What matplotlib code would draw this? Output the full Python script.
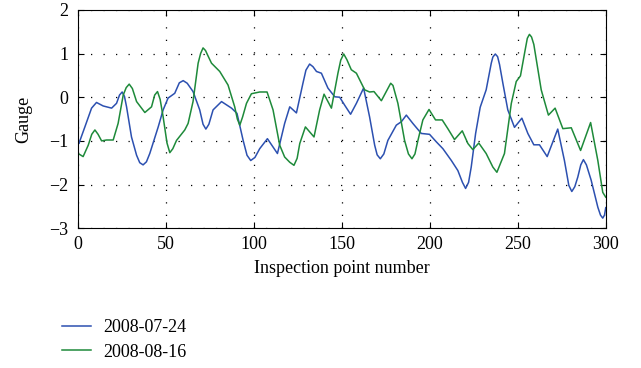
import matplotlib
matplotlib.use('Agg')
import matplotlib.pyplot as plt

# Gauge readings along the line
blue_x = [0, 0.4, 3.8, 7.6, 10.4, 14.2, 19, 21.8, 23.5, 25, 26.3, 27.5, 30.3, 33.2,
          35, 36.9, 38.8, 40.7, 45.5, 48.3, 51.1, 54.9, 57.5, 59.7, 62, 65.3, 69.1,
          71, 72.6, 74.3, 76.7, 81.5, 87.2, 90.3, 93.8, 96, 98.1, 100.5, 103.2, 107.6,
          113.3, 117.4, 120.3, 124.1, 127.8, 129.5, 131.6, 133.5, 135.5, 138.3, 142,
          145.9, 148.7, 151.5, 154.9, 158.2, 162.3, 165.7, 168.6, 170, 171.8, 173.8,
          176.1, 180.9, 183.8, 186.6, 190.3, 195.1, 199.8, 203.6, 207.4, 212.2, 215.9,
          218.5, 220.3, 222, 223.5, 226, 228.6, 232, 234.9, 235.8, 237.2, 238.5,
          239.6, 241.5, 244.3, 248.1, 252.3, 255.7, 259.1, 262.3, 266.7, 272.7,
          276.5, 279, 280.7, 282.4, 284.1, 285.8, 287.3, 289, 291.7, 295.5, 297,
          298.3, 299.3, 300]
blue_y = [-1.02, -1.06, -0.68, -0.25, -0.12, -0.20, -0.25, -0.14, 0.05, 0.12, 0.02,
          -0.22, -0.91, -1.33, -1.50, -1.55, -1.48, -1.29, -0.68, -0.29, -0.02, 0.09,
          0.33, 0.38, 0.32, 0.13, -0.29, -0.62, -0.73, -0.62, -0.29, -0.10, -0.25,
          -0.37, -0.99, -1.33, -1.45, -1.38, -1.18, -0.95, -1.29, -0.60, -0.22, -0.36,
          0.32, 0.62, 0.76, 0.70, 0.59, 0.55, 0.21, 0.01, 0.0, -0.18, -0.39, -0.14,
          0.21, -0.45, -1.10, -1.32, -1.41, -1.30, -0.99, -0.64, -0.56, -0.41, -0.60,
          -0.83, -0.85, -1.02, -1.18, -1.45, -1.68, -1.95, -2.09, -1.95, -1.60, -0.83,
          -0.23, 0.17, 0.78, 0.92, 0.99, 0.93, 0.75, 0.32, -0.29, -0.69, -0.48, -0.83,
          -1.09, -1.09, -1.36, -0.73, -1.45, -2.02, -2.16, -2.05, -1.83, -1.55, -1.43,
          -1.55, -1.90, -2.52, -2.70, -2.77, -2.70, -2.53]

green_x = [0, 2.8, 5.7, 7.7, 9.5, 11.3, 13.3, 16.1, 19.9, 22.7, 25.6, 27.3, 29, 30.8,
           33.2, 37.9, 41.7, 43.5, 45.1, 46.6, 48.3, 50.5, 52.1, 53.8, 55.9, 60.6,
           62.5, 65.3, 68.2, 69.6, 71, 72.4, 73.9, 75.8, 80.5, 85.2, 89, 90.5, 91.9,
           93.5, 95.7, 98.5, 103.2, 107.4, 110.8, 114.6, 117.4, 120.3, 122.7, 124.5,
           126, 129.2, 134.1, 137.3, 139.8, 144, 147.7, 149.3, 151, 152.8, 155.3,
           158.2, 162.9, 165.7, 168.2, 172.4, 177.7, 179, 181.8, 185.6, 187.8, 189.8,
           191.5, 193.2, 196, 199.5, 203.2, 207, 210.2, 214, 218.4, 221.6, 224.4,
           227.8, 232, 235.8, 238.1, 242.4, 246.3, 249.1, 251.5, 254.2, 255.4, 256.6,
           257.8, 259.1, 263.3, 267.4, 271.2, 275.6, 280.4, 285.7, 291.4, 295.5,
           298.3, 300]
green_y = [-1.29, -1.36, -1.10, -0.85, -0.75, -0.85, -1.00, -0.98, -0.98, -0.60, 0.05,
           0.22, 0.30, 0.20, -0.10, -0.35, -0.22, 0.05, 0.13, -0.05, -0.45, -1.05,
           -1.27, -1.18, -0.99, -0.75, -0.60, -0.10, 0.78, 1.00, 1.13, 1.07, 0.94,
           0.78, 0.59, 0.28, -0.22, -0.50, -0.64, -0.45, -0.14, 0.08, 0.12, 0.12,
           -0.29, -1.10, -1.37, -1.49, -1.56, -1.40, -1.06, -0.68, -0.91, -0.29, 0.07,
           -0.25, 0.55, 0.85, 0.99, 0.86, 0.63, 0.55, 0.17, 0.12, 0.13, -0.08, 0.32,
           0.27, -0.14, -0.99, -1.30, -1.41, -1.30, -0.99, -0.52, -0.28, -0.52, -0.52,
           -0.72, -0.97, -0.77, -1.06, -1.20, -1.05, -1.29, -1.60, -1.72, -1.29, -0.14,
           0.36, 0.49, 1.09, 1.35, 1.44, 1.38, 1.21, 0.17, -0.41, -0.25, -0.72, -0.70,
           -1.22, -0.58, -1.45, -2.18, -2.29]

series_labels = ['2008-07-24', '2008-08-16']
x_ticks = [0, 50, 100, 150, 200, 250, 300]
y_ticks = [-3, -2, -1, 0, 1, 2]

plt.rcParams['font.family'] = ['Liberation Serif', 'DejaVu Serif']
plt.rcParams['font.size'] = 13

fig = plt.figure(figsize=(6.41, 3.68), dpi=100)
ax = fig.add_axes([0.122, 0.38, 0.823, 0.593])

ax.plot(blue_x, blue_y, color='#2c50b0', lw=1.1, label=series_labels[0])
ax.plot(green_x, green_y, color='#1e8a3a', lw=1.1, label=series_labels[1])

ax.set_xlim(0, 300)
ax.set_ylim(-3, 2)
ax.set_xticks(x_ticks)
ax.set_yticks(y_ticks)
ax.tick_params(direction='in', top=True, right=True, length=4, width=0.8)
ax.tick_params(axis='x', pad=6)
ax.tick_params(axis='y', pad=7)
ax.grid(True, color='black', linestyle=(0, (1, 9)), linewidth=0.9)
for s in ax.spines.values():
    s.set_linewidth(0.8)

ax.set_xlabel('Inspection point number', labelpad=5)
ax.set_ylabel('Gauge', labelpad=12)

fig.legend(loc='upper left', bbox_to_anchor=(0.097, 0.132), frameon=False,
           handlelength=1.6, handletextpad=0.7, labelspacing=0.4,
           borderaxespad=0, borderpad=0)

fig.savefig('out.png', dpi=100)
